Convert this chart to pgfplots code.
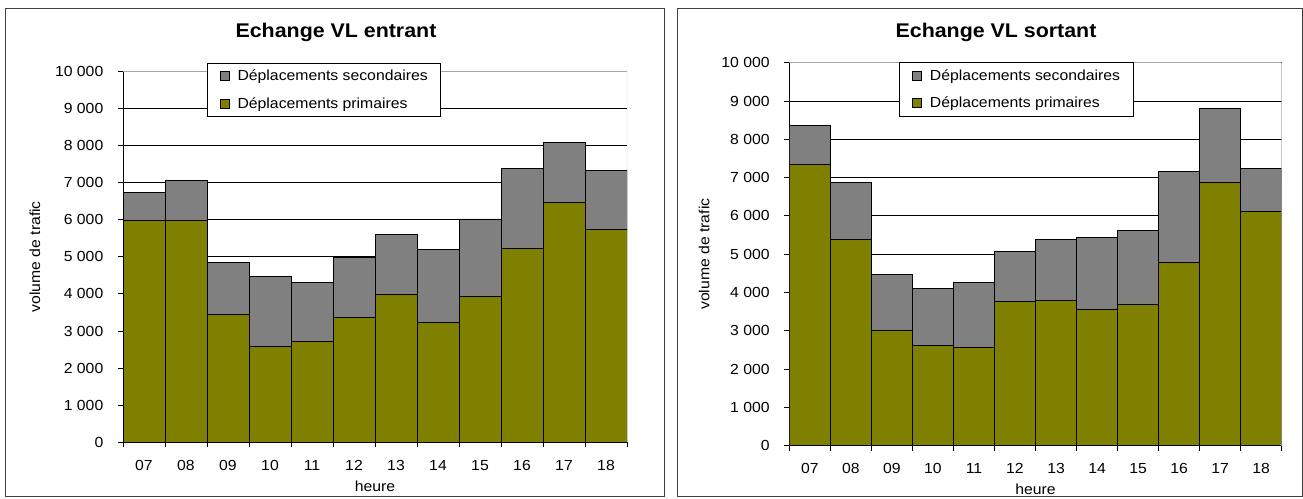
\documentclass[border=0pt]{standalone}
\usepackage{fontspec}
\setmainfont{Liberation Sans}[FakeStretch=1.08]
\usepackage{pgfplots}
\usepackage{pgfplotstable}
\pgfplotsset{compat=1.18}

\definecolor{primcol}{RGB}{128,128,0}
\definecolor{seccol}{RGB}{128,128,128}

% Hourly light-vehicle exchange volumes (07h ... 18h)
\pgfplotstableread{
h prim sec
0  5970  760
1  5980 1090
2  3450 1390
3  2580 1880
4  2710 1610
5  3360 1630
6  3980 1630
7  3230 1970
8  3935 2085
9  5237 2148
10 6477 1609
11 5749 1582
}\entrant

\pgfplotstableread{
h prim sec
0  7337 1028
1  5397 1470
2  3021 1462
3  2621 1496
4  2569 1697
5  3778 1287
6  3804 1575
7  3561 1870
8  3700 1914
9  4796 2368
10 6867 1943
11 6120 1113
}\sortant

\newcommand{\lblfont}{\fontsize{14.6}{17}\selectfont}

\pgfplotsset{
  echange/.style={
    scale only axis,
    ybar stacked,
    enlargelimits=false,
    ymin=0, ymax=10000,
    xmin=-0.5, xmax=11.5,
    ytick={0,1000,...,10000},
    scaled y ticks=false,
    xtick={-0.5,0.5,...,11.5},
    xticklabels={},
    extra x ticks={0,...,11},
    extra x tick labels={07,08,09,10,11,12,13,14,15,16,17,18},
    extra x tick style={major tick length=0pt, grid=none},
    tick align=outside,
    major tick length=5pt,
    every tick/.style={black, line width=0.8pt},
    axis lines*=left,
    axis line style={black, line width=0.8pt, -},
    ymajorgrids,
    grid style={black, line width=0.8pt},
    /pgf/number format/1000 sep={\ },
    /pgf/number format/assume math mode=true,
    tick label style={font=\lblfont},
    yticklabel style={anchor=east, inner sep=0pt, xshift=-14.5pt},
    xticklabel style={anchor=center, inner sep=0pt},
    label style={font=\lblfont},
    xlabel={heure},
    ylabel={volume de trafic},
    title style={font=\bfseries\fontsize{19.8}{22}\selectfont, anchor=base},
    legend cell align=left,
    reverse legend,
    legend style={anchor=north west, draw=black, line width=0.8pt, fill=white,
      font=\lblfont, inner xsep=13pt, inner ysep=7pt,
      nodes={inner sep=0pt}, row sep=15pt, column sep=7.7pt},
    every axis plot post/.append style={
      legend image code/.code={\draw[##1, line width=0.8pt] (0pt,-4.5pt) rectangle (9pt,4.5pt);}},
  },
  primaire/.style={fill=primcol, draw=black, line width=0.8pt},
  secondaire/.style={fill=seccol, draw=black, line width=0.8pt},
}

\begin{document}
\begin{tikzpicture}
\useasboundingbox (0pt,0pt) rectangle (1303pt,498pt);

% panel frames
\draw[black!75, line width=1pt] (5pt,2pt) rectangle (664pt,489pt);
\draw[black!75, line width=1pt] (677.3pt,2pt) rectangle (1302pt,489pt);

\begin{axis}[echange,
  width=504pt, height=371pt, at={(123pt,55.7pt)}, anchor=south west,
  bar width=42pt,
  title={Echange VL entrant},
  title style={at={(0.4226,1.0755)}},
  extra x tick style={xticklabel style={yshift=-23.4pt}},
  xlabel style={at={(0.5,-0.118)}, anchor=center},
  ylabel style={at={(-0.1746,0.5)}, anchor=center},
  legend style={at={(0.166,1.023)}},
]
\draw[black!35, line width=0.8pt] (rel axis cs:0,1) -- (rel axis cs:1,1) -- (rel axis cs:1,0);
\addplot[primaire] table[x=h, y=prim] {\entrant};
\addplot[secondaire] table[x=h, y=sec] {\entrant};
\legend{Déplacements primaires, Déplacements secondaires}
\end{axis}

\begin{axis}[echange,
  width=492.4pt, height=383pt, at={(789.3pt,52.3pt)}, anchor=south west,
  bar width=41.03pt,
  title={Echange VL sortant},
  title style={at={(0.4198,1.0507)}},
  extra x tick style={xticklabel style={yshift=-22.6pt}},
  xlabel style={at={(0.5,-0.113)}, anchor=center},
  ylabel style={at={(-0.173,0.5)}, anchor=center},
  legend style={at={(0.2228,1.0018)}},
]
\draw[black!35, line width=0.8pt] (rel axis cs:0,1) -- (rel axis cs:1,1) -- (rel axis cs:1,0);
\addplot[primaire] table[x=h, y=prim] {\sortant};
\addplot[secondaire] table[x=h, y=sec] {\sortant};
\legend{Déplacements primaires, Déplacements secondaires}
\end{axis}
\end{tikzpicture}
\end{document}
